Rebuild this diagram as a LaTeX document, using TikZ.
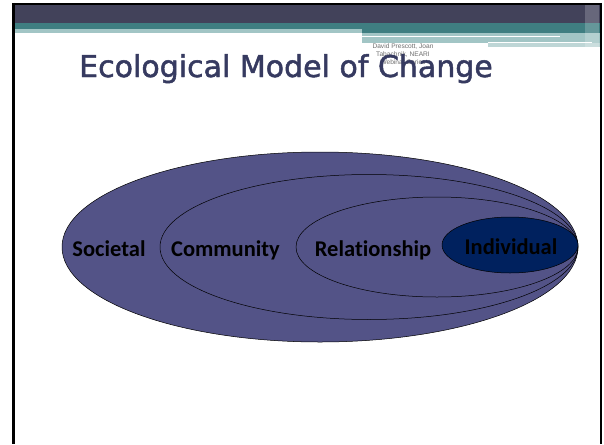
\documentclass[tikz,border=0pt]{standalone}
\usepackage{fontspec}
\setmainfont[Ligatures=NoCommon]{Carlito}
\newfontfamily\titlefont[FakeBold=1.6]{DejaVu Sans}
\newfontfamily\smallfont{Liberation Sans}
\usetikzlibrary{shapes.geometric}
\definecolor{hdrdark}{HTML}{42425A}
\definecolor{hdrteal}{HTML}{3F7E81}
\definecolor{hdrlight}{HTML}{A2C5C5}
\definecolor{outerfill}{HTML}{535387}
\definecolor{indfill}{HTML}{00215E}
\definecolor{titlecol}{HTML}{363A60}
\definecolor{notegray}{HTML}{6E6E6E}
\begin{document}
\begin{tikzpicture}[x=1pt,y=-1pt,
  ring/.style={ellipse, draw=black, line width=0.5pt, inner sep=0pt},
  lbl/.style={font=\bfseries\fontsize{22.5}{27}\selectfont, anchor=base, inner sep=0pt, text=black},
  note/.style={font=\smallfont\fontsize{6.6}{8}\selectfont, text=notegray, anchor=north, inner sep=0pt, align=center}]
\useasboundingbox (0,0) rectangle (604,444);
\fill[white] (0,0) rectangle (604,444);
% header bands
\fill[hdrdark] (13,4) rectangle (600,23);
\fill[hdrteal] (13,23) rectangle (600,29);
\fill[hdrlight] (13,29) rectangle (362,33);
\fill[hdrteal] (362,29) rectangle (600,33);
\fill[hdrlight] (362,33) rectangle (600,43);
\fill[hdrlight!70!white] (488,43) rectangle (600,47);
\draw[white, line width=0.9pt] (362,36) -- (560,36);
\draw[white, line width=0.9pt] (488,42) -- (592,42);
\fill[white, opacity=0.2] (585,5) rectangle (599,47);
% frame
\draw[black, line width=2pt] (12,3.8) -- (602,3.8);
\draw[black, line width=2.6pt] (13.5,3) -- (13.5,444);
\draw[black, line width=2.6pt] (600.8,3) -- (600.8,444);
% author note and title
\node[note] (note) at (403,44) {David Prescott, Joan\\Tabachnik, NEARI\\Webinar Series};
\node[font=\titlefont\fontsize{30}{36}\selectfont, text=titlecol, anchor=base west, inner sep=0pt] (title) at (79,77) {Ecological Model of Change};
% ellipses
\node[ring, fill=outerfill, minimum width=516pt, minimum height=190pt] (societal) at (320,247) {};
\node[ring, minimum width=418pt, minimum height=145pt] (community) at (369,247) {};
\node[ring, minimum width=282pt, minimum height=100pt] (relationship) at (437,247) {};
\node[ring, fill=indfill, minimum width=136pt, minimum height=56pt] (individual) at (510,245) {};
% labels
\node[lbl] (lsoc) at (109,256) {Societal};
\node[lbl] (lcom) at (225.5,256) {Community};
\node[lbl] (lrel) at (373,256) {Relationship};
\node[lbl] (lind) at (511,254) {Individual};
\end{tikzpicture}
\end{document}
